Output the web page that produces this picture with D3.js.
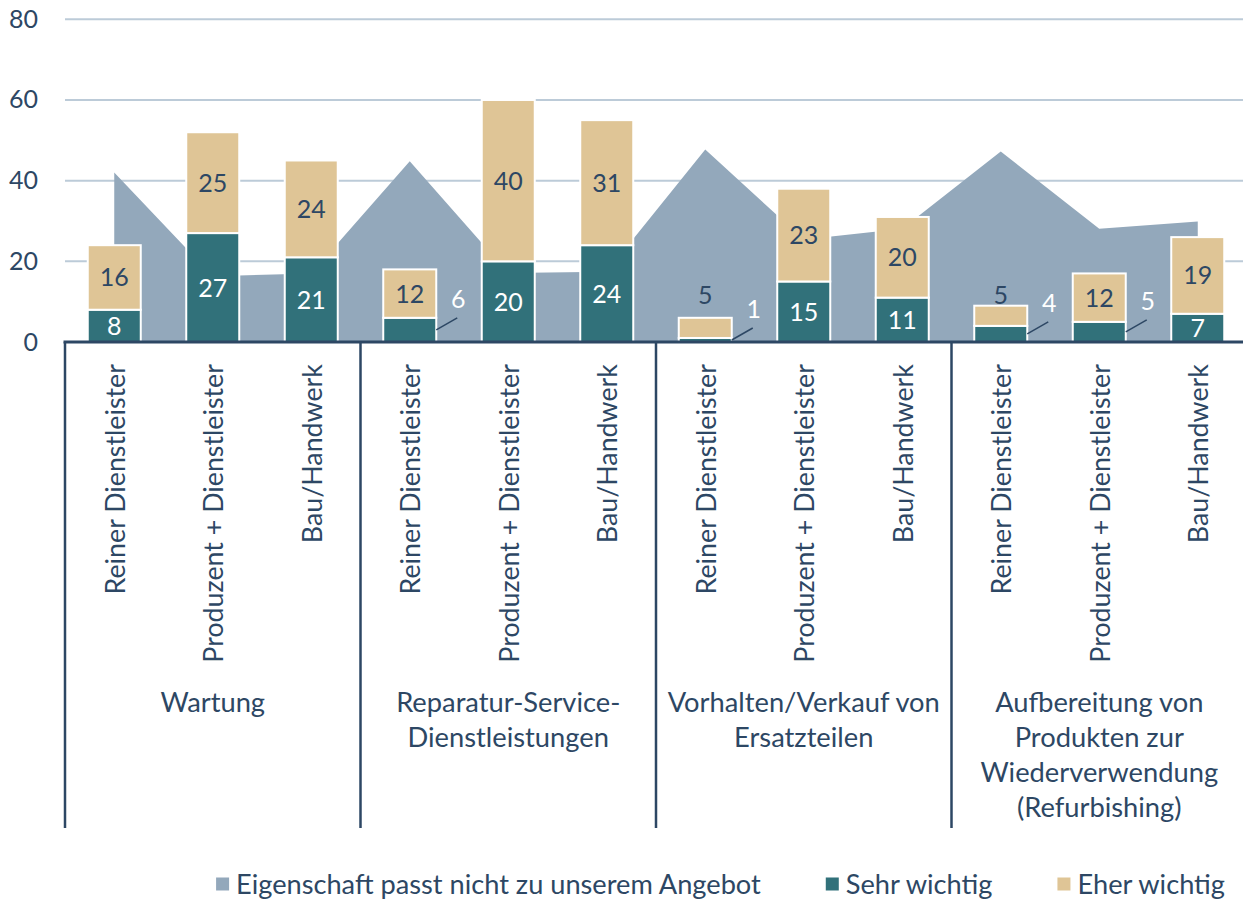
<!DOCTYPE html>
<html>
<head>
<meta charset="utf-8">
<script src="https://cdn.jsdelivr.net/npm/d3@7"></script>
<style>
  body { margin: 0; background: #fff; }
  text { font-family: Lato, "Open Sans", sans-serif; fill: #2d4764; }
</style>
</head>
<body>
<div id="chart-area"></div>
<script>
// categories
var groups = ["Wartung", "Reparatur-Service-Dienstleistungen", "Vorhalten/Verkauf von Ersatzteilen", "Aufbereitung von Produkten zur Wiederverwendung (Refurbishing)"];
var groupLines = [["Wartung"], ["Reparatur-Service-", "Dienstleistungen"], ["Vorhalten/Verkauf von", "Ersatzteilen"], ["Aufbereitung von", "Produkten zur", "Wiederverwendung", "(Refurbishing)"]];
var types = ["Reiner Dienstleister", "Produzent + Dienstleister", "Bau/Handwerk"];

// series values (12 = 4 groups x 3 types)
var passtNicht = [42, 16.3, 17, 44.8, 17.1, 17.4, 47.7, 25.4, 28.1, 47.2, 28.1, 29.9];
var sehrWichtig = [8, 27, 21, 6, 20, 24, 1, 15, 11, 4, 5, 7];
var eherWichtig = [16, 25, 24, 12, 40, 31, 5, 23, 20, 5, 12, 19];

var yTicks = [0, 20, 40, 60, 80];
var legendNames = ["Eigenschaft passt nicht zu unserem Angebot", "Sehr wichtig", "Eher wichtig"];

var cArea = "#93a8bb", cSehr = "#31717a", cEher = "#dfc596", cNavy = "#2d4764", cGrid = "#bccbd8";

var W = 1243, H = 899;
var svg = d3.select("#chart-area").append("svg")
    .attr("width", W)
    .attr("height", H);

var data = [];
groups.forEach(function(g, gi){
    types.forEach(function(t, ti){
        var i = gi * 3 + ti;
        data.push({key: g + "|" + t, group: g, type: t, gi: gi,
                   passt: passtNicht[i], sehr: sehrWichtig[i], eher: eherWichtig[i]});
    });
});

var x = d3.scaleBand()
    .domain(data.map(function(d){ return d.key; }))
    .range([65, 1247])
    .padding(0);

var y = d3.scaleLinear().domain([0, 80]).range([342, 19.3]);

var barW = 53;
function cx(d){ return x(d.key) + x.bandwidth() / 2; }

// gridlines
svg.append("g").selectAll("line")
    .data(yTicks.slice(1))
    .enter().append("line")
    .attr("x1", 65).attr("x2", W)
    .attr("y1", function(d){ return y(d); })
    .attr("y2", function(d){ return y(d); })
    .attr("stroke", cGrid)
    .attr("stroke-width", 2);

// y axis labels
var yAxis = d3.axisLeft(y).tickValues(yTicks).tickSize(0).tickPadding(0);
var yAxisGroup = svg.append("g")
    .attr("transform", "translate(38,0)")
    .call(yAxis);
yAxisGroup.select(".domain").remove();
yAxisGroup.selectAll("text")
    .attr("font-size", "25px")
    .attr("fill", cNavy)
    .attr("font-family", "Lato, sans-serif");

// area
var area = d3.area()
    .x(function(d){ return cx(d); })
    .y0(y(0))
    .y1(function(d){ return y(d.passt); });

svg.append("path")
    .datum(data)
    .attr("d", area)
    .attr("fill", cArea);

// stacked bars
var bars = svg.append("g").selectAll("g")
    .data(data)
    .enter().append("g");

bars.append("rect")
    .attr("x", function(d){ return cx(d) - barW / 2; })
    .attr("width", barW)
    .attr("y", function(d){ return y(d.sehr); })
    .attr("height", function(d){ return y(0) - y(d.sehr); })
    .attr("fill", cSehr)
    .attr("stroke", "#fff")
    .attr("stroke-width", 2);

bars.append("rect")
    .attr("x", function(d){ return cx(d) - barW / 2; })
    .attr("width", barW)
    .attr("y", function(d){ return y(d.sehr + d.eher); })
    .attr("height", function(d){ return y(d.sehr) - y(d.sehr + d.eher); })
    .attr("fill", cEher)
    .attr("stroke", "#fff")
    .attr("stroke-width", 2);

// labels: small segments get an outside label
bars.each(function(d){
    var gsel = d3.select(this);
    var ymid = (y(0) + y(d.sehr)) / 2;
    if (d.sehr >= 7) {
        gsel.append("text")
            .attr("x", cx(d)).attr("y", ymid)
            .attr("dy", "0.36em")
            .attr("text-anchor", "middle")
            .attr("font-size", "25px")
            .style("fill", "#fff")
            .text(d.sehr);
    } else {
        var bx = cx(d) + barW / 2;
        gsel.append("line")
            .attr("x1", bx).attr("y1", ymid)
            .attr("x2", bx + 21).attr("y2", ymid - 12)
            .attr("stroke", cNavy).attr("stroke-width", 1.5);
        gsel.append("text")
            .attr("x", bx + 22).attr("y", ymid - 31)
            .attr("dy", "0.36em")
            .attr("text-anchor", "middle")
            .attr("font-size", "25px")
            .style("fill", "#fff")
            .text(d.sehr);
    }
    var top = d.sehr + d.eher;
    if (d.eher >= 7) {
        gsel.append("text")
            .attr("x", cx(d)).attr("y", (y(d.sehr) + y(top)) / 2)
            .attr("dy", "0.36em")
            .attr("text-anchor", "middle")
            .attr("font-size", "25px")
            .text(d.eher);
    } else {
        gsel.append("text")
            .attr("x", cx(d)).attr("y", Math.min(y(top) - 2, y(9.3)))
            .attr("text-anchor", "middle")
            .attr("font-size", "25px")
            .text(d.eher);
    }
});

// baseline and separators
svg.append("line")
    .attr("x1", 63.5).attr("x2", W)
    .attr("y1", y(0)).attr("y2", y(0))
    .attr("stroke", cNavy).attr("stroke-width", 3);

var groupStarts = groups.map(function(g, gi){ return x(data[gi * 3].key); });
svg.append("g").selectAll("line")
    .data(groupStarts)
    .enter().append("line")
    .attr("x1", function(d){ return d; }).attr("x2", function(d){ return d; })
    .attr("y1", y(0)).attr("y2", 828)
    .attr("stroke", cNavy).attr("stroke-width", 2.5);

// rotated category labels
svg.append("g").selectAll("text")
    .data(data)
    .enter().append("text")
    .attr("transform", function(d){ return "translate(" + (cx(d) + 1) + ",364) rotate(-90)"; })
    .attr("dy", "0.36em")
    .attr("text-anchor", "end")
    .attr("font-size", "26.8px")
    .text(function(d){ return d.type; });

// group labels
var groupW = x.bandwidth() * 3;
groupLines.forEach(function(lines, gi){
    var t = svg.append("text")
        .attr("x", groupStarts[gi] + groupW / 2)
        .attr("y", 712)
        .attr("text-anchor", "middle")
        .attr("font-size", "27.3px");
    lines.forEach(function(l, li){
        t.append("tspan")
            .attr("x", groupStarts[gi] + groupW / 2)
            .attr("dy", li === 0 ? 0 : 35)
            .text(l);
    });
});

// legend
var legColors = [cArea, cSehr, cEher];
var legend = svg.append("g");
var items = legend.selectAll("g")
    .data(legendNames)
    .enter().append("g");
items.append("rect")
    .attr("width", 13).attr("height", 13)
    .attr("y", 877.5)
    .attr("fill", function(d, i){ return legColors[i]; });
items.append("text")
    .attr("x", 20)
    .attr("y", 884)
    .attr("dy", "0.36em")
    .attr("font-size", "27.2px")
    .text(function(d){ return d; });
var lx = 1225;
var widths = [];
items.each(function(){ widths.push(d3.select(this).select("text").node().getComputedTextLength()); });
var pos = [];
for (var i = legendNames.length - 1; i >= 0; i--) {
    lx -= widths[i] + 20;
    pos[i] = lx;
    lx -= 65;
}
items.attr("transform", function(d, i){ return "translate(" + pos[i] + ",0)"; });
</script>
</body>
</html>
